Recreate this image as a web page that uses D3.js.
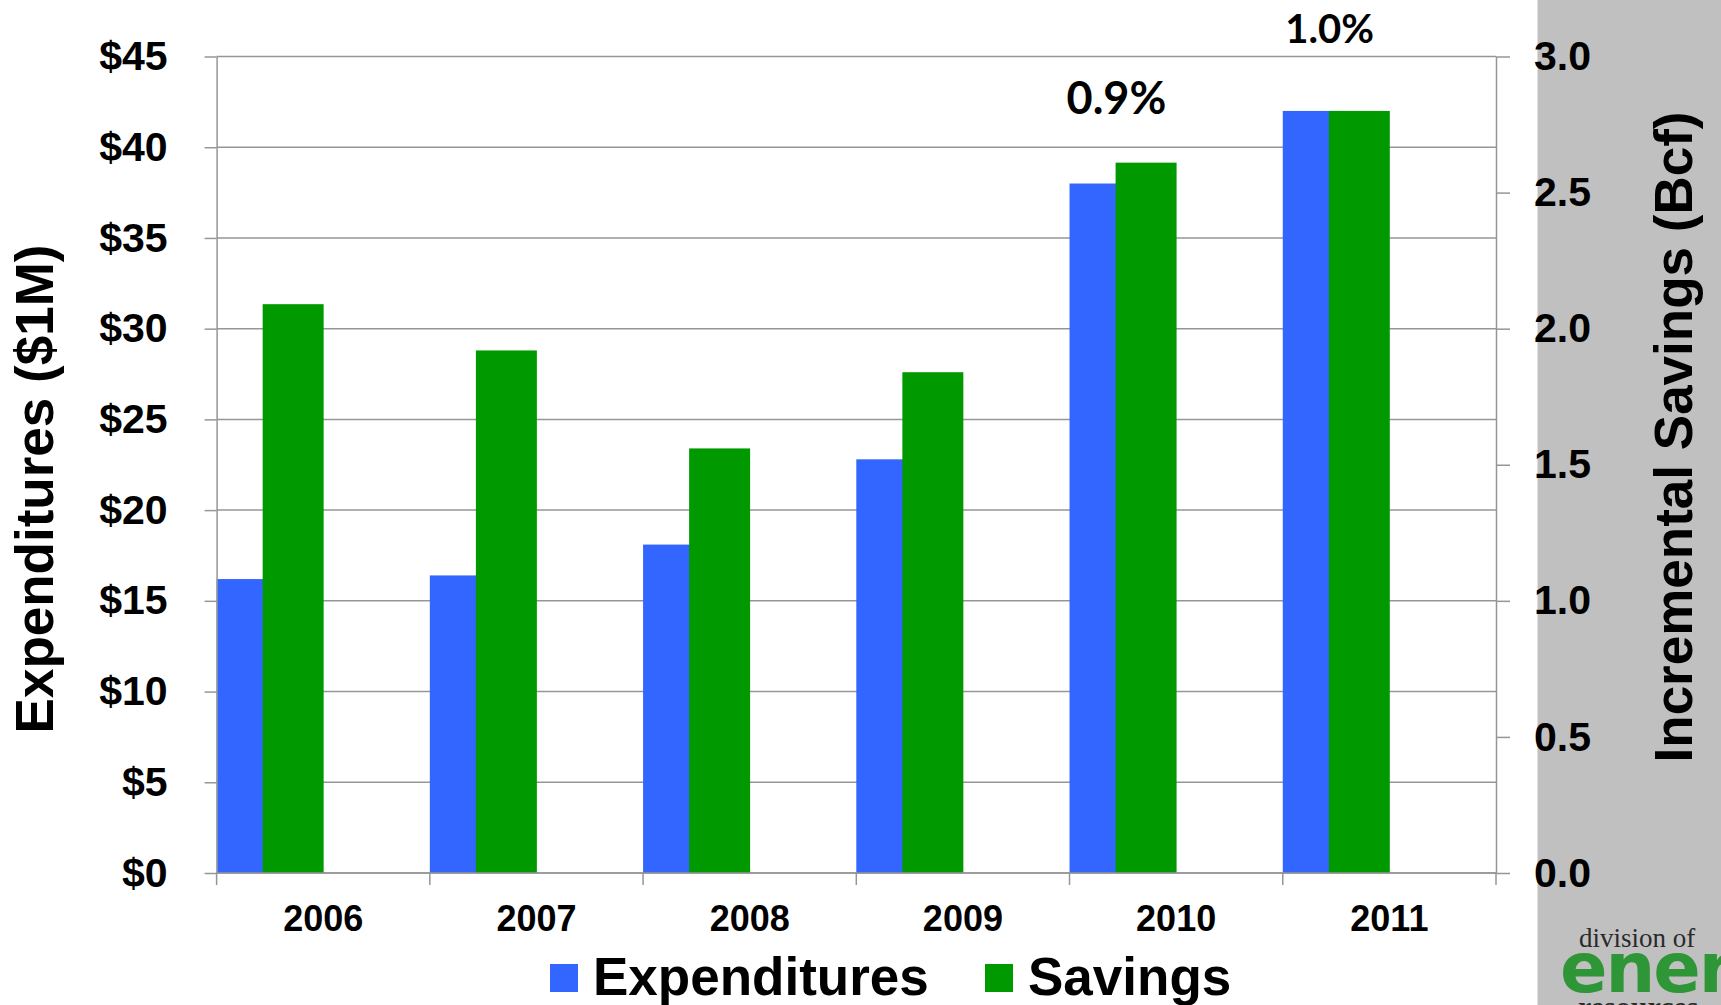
<!DOCTYPE html>
<html lang="en">
<head>
  <meta charset="UTF-8">
  <title>Expenditures and Savings</title>
  <script src="https://cdn.jsdelivr.net/npm/d3@7.8.5/dist/d3.min.js"></script>
  <style>
    body { margin: 0; background: #fff; }
    svg { display: block; font-family: "Liberation Sans", Arial, sans-serif; font-weight: bold; }
  </style>
</head>
<body>
  <svg id="chart"></svg>
  <script>
    // chart data
    const years = ["2006", "2007", "2008", "2009", "2010", "2011"];
    const expenditures = [16.2, 16.4, 18.1, 22.8, 38.0, 42.0];   // $1M
    const savings = [2.09, 1.92, 1.56, 1.84, 2.61, 2.80];        // Bcf
    const leftTicks = [0, 5, 10, 15, 20, 25, 30, 35, 40, 45];
    const rightTicks = [0, 0.5, 1.0, 1.5, 2.0, 2.5, 3.0];
    const noteYears = ["2010", "2011"];
    const noteTexts = ["0.9%", "1.0%"];
    const noteLevels = [2.79, 3.05];   // Bcf, where the note sits
    const seriesNames = ["Expenditures", "Savings"];
    const colors = ["#3366ff", "#009900"];
    const noteSizes = [45, 40];

    const width = 1721, height = 1005;
    const margin = { top: 56.5, right: 225, bottom: 132, left: 216.6 };
    const svg = d3.select("#chart").attr("width", width).attr("height", height);

    // gray panel at the right
    svg.append("rect").attr("x", 1537.5).attr("y", 0)
      .attr("width", width - 1537.5).attr("height", height).attr("fill", "#c0c0c0");

    const x = d3.scaleBand().domain(years).range([margin.left, width - margin.right]);
    const yL = d3.scaleLinear().domain([0, 45]).range([height - margin.bottom, margin.top]);
    const yR = d3.scaleLinear().domain([0, 3]).range([height - margin.bottom, margin.top]);
    const bw = x.bandwidth();

    // gridlines
    svg.append("g").selectAll("line").data(leftTicks).enter().append("line")
      .attr("x1", margin.left).attr("x2", width - margin.right)
      .attr("y1", d => yL(d)).attr("y2", d => yL(d))
      .attr("stroke", "#969696").attr("stroke-width", 1.5);

    // bars: blue first, green overlaps it
    svg.append("g").selectAll("rect").data(years).enter().append("rect")
      .attr("x", (d, i) => x(d))
      .attr("width", bw * 0.286)
      .attr("y", (d, i) => yL(expenditures[i]))
      .attr("height", (d, i) => yL(0) - yL(expenditures[i]))
      .attr("fill", colors[0]);
    svg.append("g").selectAll("rect").data(years).enter().append("rect")
      .attr("x", (d, i) => x(d) + bw * 0.216)
      .attr("width", bw * 0.286)
      .attr("y", (d, i) => yR(savings[i]))
      .attr("height", (d, i) => yR(0) - yR(savings[i]))
      .attr("fill", colors[1]);

    // axes
    const axisStyle = g => {
      g.select(".domain").attr("stroke", "#969696").attr("stroke-width", 1.5);
      g.selectAll(".tick line").attr("stroke", "#969696").attr("stroke-width", 1.5);
      g.selectAll("text").attr("fill", "#000").attr("font-size", 41)
        .attr("font-family", "Liberation Sans, Arial, sans-serif").attr("font-weight", "bold");
    };
    svg.append("g").attr("transform", `translate(${margin.left},0)`)
      .call(d3.axisLeft(yL).tickValues(leftTicks).tickSize(12).tickSizeOuter(0).tickPadding(37)
        .tickFormat(d => "$" + d))
      .call(axisStyle);
    svg.append("g").attr("transform", `translate(${width - margin.right},0)`)
      .call(d3.axisRight(yR).tickValues(rightTicks).tickSize(14).tickSizeOuter(0).tickPadding(24)
        .tickFormat(d3.format(".1f")))
      .call(axisStyle);

    // bottom axis: line + ticks at category edges
    const base = yL(0);
    svg.append("line").attr("x1", margin.left).attr("x2", width - margin.right)
      .attr("y1", base).attr("y2", base).attr("stroke", "#969696").attr("stroke-width", 1.5);
    const edges = years.map(d => x(d)).concat([x(years[years.length - 1]) + bw]);
    svg.append("g").selectAll("line").data(edges).enter().append("line")
      .attr("x1", d => d).attr("x2", d => d).attr("y1", base).attr("y2", base + 12)
      .attr("stroke", "#969696").attr("stroke-width", 1.5);
    svg.append("g").selectAll("text").data(years).enter().append("text")
      .attr("x", d => x(d) + bw / 2).attr("y", 930.5)
      .attr("text-anchor", "middle").attr("font-size", 36).text(d => d);

    // axis titles
    svg.append("text")
      .attr("transform", "translate(53,489) rotate(-90)")
      .attr("text-anchor", "middle").attr("font-size", 53).text("Expenditures ($1M)");
    svg.append("text")
      .attr("transform", "translate(1692,437) rotate(-90)")
      .attr("text-anchor", "middle").attr("font-size", 53).text("Incremental Savings (Bcf)");

    // percentage notes
    svg.append("g").selectAll("text").data(noteYears).enter().append("text")
      .attr("x", d => x(d) + bw * 0.22)
      .attr("y", (d, i) => yR(noteLevels[i]))
      .attr("text-anchor", "middle")
      .attr("font-family", "Lato, sans-serif").attr("font-weight", "bold")
      .attr("font-size", (d, i) => noteSizes[i]).text((d, i) => noteTexts[i]);

    // legend
    const legend = svg.append("g");
    const legendX = [550, 985];
    seriesNames.forEach((name, i) => {
      legend.append("rect").attr("x", legendX[i]).attr("y", 964)
        .attr("width", 28).attr("height", 28).attr("fill", colors[i]);
      legend.append("text").attr("x", legendX[i] + 43).attr("y", 995)
        .attr("font-size", 53).text(name);
    });

    // logo in the corner (clipped by the page edge, as in the original)
    svg.append("text").attr("x", 1579).attr("y", 947)
      .attr("font-family", "Liberation Serif, serif").attr("font-weight", "normal")
      .attr("font-size", 27).attr("fill", "#2a2a2a").text("division of");
    svg.append("text").attr("x", 1560).attr("y", 992)
      .attr("font-family", "DejaVu Sans, sans-serif").attr("font-weight", "bold")
      .attr("font-size", 70).attr("letter-spacing", -2).attr("fill", "#2e9637").text("energy");
    svg.append("text").attr("x", 1578).attr("y", 1017)
      .attr("font-family", "Liberation Serif, serif").attr("font-weight", "bold")
      .attr("font-size", 30).attr("fill", "#2a2a2a").text("resources");
  </script>
</body>
</html>
